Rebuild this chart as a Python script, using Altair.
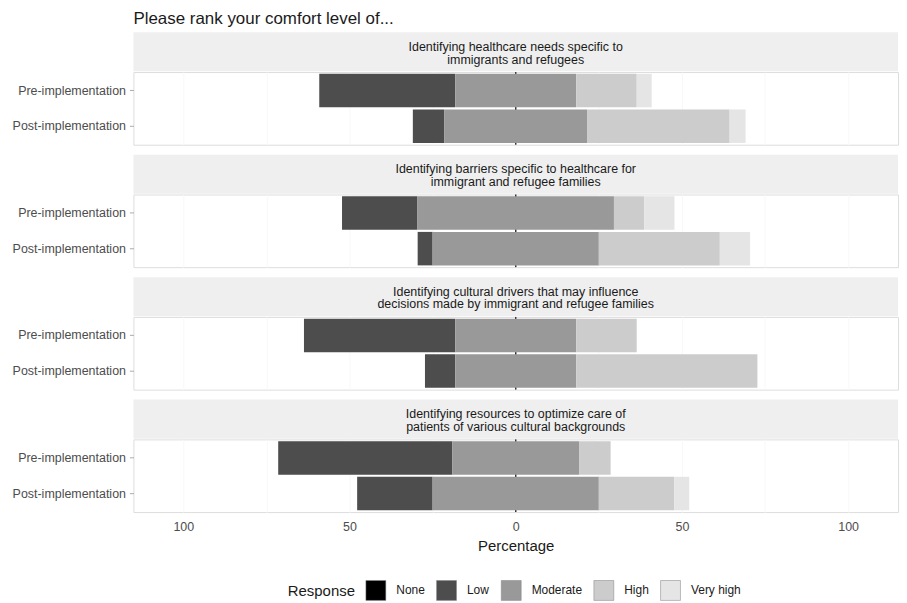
import altair as alt
import pandas as pd

questions = [
    "Identifying healthcare needs specific to\nimmigrants and refugees",
    "Identifying barriers specific to healthcare for\nimmigrant and refugee families",
    "Identifying cultural drivers that may influence\ndecisions made by immigrant and refugee families",
    "Identifying resources to optimize care of\npatients of various cultural backgrounds",
]
timepoints = ["Pre-implementation", "Post-implementation"]
responses = ["None", "Low", "Moderate", "High", "Very high"]
colors = ["#000000", "#4D4D4D", "#999999", "#CCCCCC", "#E5E5E5"]

# percentages per question: [pre, post]
pct_none = [[0, 0], [0, 0], [0, 0], [0, 0]]
pct_low = [[40.9, 9.5], [22.7, 4.5], [45.5, 9.1], [52.4, 22.7]]
pct_moderate = [[36.4, 42.9], [59.1, 50.0], [36.4, 36.4], [38.1, 50.0]]
pct_high = [[18.2, 42.9], [9.1, 36.4], [18.2, 54.5], [9.5, 22.7]]
pct_very_high = [[4.5, 4.8], [9.1, 9.1], [0, 0], [0, 4.5]]

FONT = "Liberation Sans"
W = 768
STRIP_H = 40
PANEL_H = 73
LH = 13


def panel_data(qi):
    rows = []
    for ti, t in enumerate(timepoints):
        vals = [pct_none[qi][ti], pct_low[qi][ti], pct_moderate[qi][ti],
                pct_high[qi][ti], pct_very_high[qi][ti]]
        start = -(vals[0] + vals[1] + vals[2] / 2.0)
        for r, v in zip(responses, vals):
            rows.append({"time": t, "response": r, "start": start, "end": start + v})
            start += v
    return pd.DataFrame(rows)


color_enc = alt.Color(
    "response:N",
    scale=alt.Scale(domain=responses, range=colors),
    legend=alt.Legend(
        title="Response", orient="none", legendX=155, legendY=510,
        direction="horizontal", titleOrient="left",
        symbolType="square", symbolSize=400, symbolStrokeColor="#7F7F7F",
        symbolStrokeWidth=0.5, symbolOpacity=1,
        titleFontSize=15, titleFontWeight="normal", titleColor="#1A1A1A", titleFont=FONT,
        labelFontSize=12, labelColor="#1A1A1A", labelFont=FONT,
        columnPadding=10, labelOffset=10, titlePadding=10,
    ),
)

charts = []
for qi, q in enumerate(questions):
    sdf = pd.DataFrame({"label": [q]})
    rect = alt.Chart(sdf).mark_rect(color="#EFEFEF").encode(
        x=alt.value(0), x2=alt.value(W), y=alt.value(-STRIP_H), y2=alt.value(-0.7)
    )
    txt = alt.Chart(sdf).mark_text(
        lineBreak="\n", fontSize=12.5, font=FONT, color="#1A1A1A", baseline="middle",
        align="center", lineHeight=LH
    ).encode(text="label:N", x=alt.value(W / 2),
             y=alt.value(-STRIP_H / 2 - LH / 2 + 1))

    last = qi == len(questions) - 1
    xaxis = alt.Axis(
        values=[-100, -75, -50, -25, 0, 25, 50, 75, 100],
        labelExpr="datum.value % 50 == 0 ? abs(datum.value) : ''",
        title="Percentage" if last else None,
        labels=last, ticks=False, domain=False,
        grid=True, gridColor="#F8F8F8", gridWidth=1,
        labelFontSize=12.5, labelColor="#4D4D4D", labelFont=FONT,
        labelPadding=9 if last else 0,
        titleFontSize=15, titleFontWeight="normal", titleColor="#1A1A1A", titleFont=FONT,
        titlePadding=5,
    )
    df = panel_data(qi)
    rule = alt.Chart(pd.DataFrame({"z": [0]})).mark_rule(color="#333333", strokeWidth=1.5).encode(
        x=alt.X("z:Q", scale=alt.Scale(domain=[-115, 115], nice=False), axis=xaxis)
    )
    bars = alt.Chart(df).mark_bar(opacity=1).encode(
        x=alt.X("start:Q", scale=alt.Scale(domain=[-115, 115], nice=False), axis=xaxis),
        x2="end:Q",
        y=alt.Y(
            "time:N", sort=timepoints,
            scale=alt.Scale(paddingInner=0.06, paddingOuter=0.05),
            axis=alt.Axis(title=None, labelFontSize=12.5, labelColor="#4D4D4D", labelFont=FONT,
                          tickColor="#AAAAAA", tickSize=4, domain=False, labelPadding=4),
        ),
        color=color_enc,
        order=alt.Order("start:Q"),
    )
    panel = alt.layer(rect, txt, rule, bars).properties(width=W, height=PANEL_H)
    charts.append(panel)

chart = alt.vconcat(*charts, spacing=7).resolve_scale(color="shared").properties(
    title=alt.TitleParams(
        "Please rank your comfort level of...", anchor="start", frame="group",
        fontSize=17, font=FONT, fontWeight="normal", color="#1A1A1A", offset=4,
    )
).configure_view(stroke="#ABABAB", strokeWidth=1.3).configure(
    background="white", padding={"left": 3, "right": 0, "top": 0, "bottom": 0}
)

chart.save("out.html", embed_options={"renderer": "svg", "actions": False})
